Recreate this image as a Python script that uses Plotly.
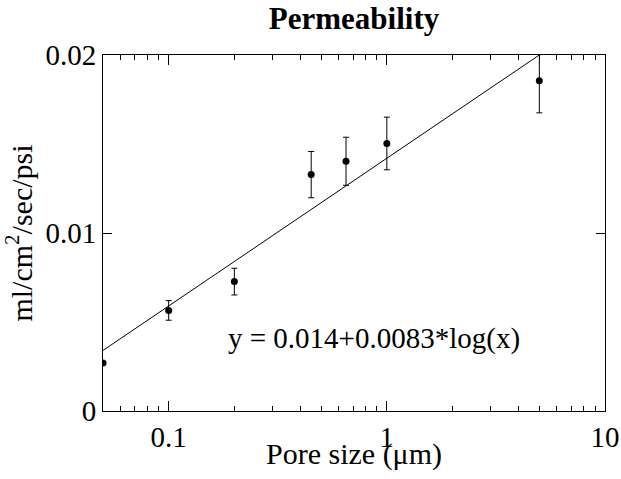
import math
import plotly.graph_objects as go

# Data
pore_size = [0.05, 0.1, 0.2, 0.45, 0.65, 1.0, 5.0]
permeability = [0.0027, 0.00565, 0.00727, 0.01328, 0.01403, 0.01503, 0.01855]
perm_error = [0.0, 0.00055, 0.00075, 0.0013, 0.00135, 0.00148, 0.0018]

fit_intercept = 0.0142
fit_slope = 0.0083
fit_x = [0.05, 0.5, 5.0, 6.0]
fit_y = [fit_intercept + fit_slope * math.log10(v) for v in fit_x]

x_tickvals = [0.1, 1, 10]
x_ticktext = ["0.1", "1", "10"]
x_minor = [0.06, 0.07, 0.08, 0.09,
           0.2, 0.3, 0.4, 0.5, 0.6, 0.7, 0.8, 0.9,
           2, 3, 4, 5, 6, 7, 8, 9]
y_tickvals = [0, 0.01, 0.02]
y_ticktext = ["0", "0.01", "0.02"]

FONT = "Liberation Serif, Times New Roman, serif"

fig = go.Figure()
fig.add_trace(go.Scatter(
    x=fit_x, y=fit_y, mode="lines",
    line=dict(color="black", width=1), showlegend=False, hoverinfo="skip"))
fig.add_trace(go.Scatter(
    x=pore_size, y=permeability, mode="markers",
    marker=dict(color="black", size=7),
    error_y=dict(type="data", array=perm_error, visible=True,
                 color="black", thickness=1, width=3),
    showlegend=False, cliponaxis=True))

fig.update_layout(
    width=621, height=479,
    margin=dict(l=103, r=16, t=55, b=68, autoexpand=False),
    paper_bgcolor="white", plot_bgcolor="white",
    font=dict(family=FONT, color="black", size=28),
    title=dict(text="<b>Permeability</b>", x=0.5, xref="paper",
               y=0.962, yref="container", yanchor="middle",
               xanchor="center",
               font=dict(family=FONT, size=31, color="black")),
    annotations=[
        dict(text="y = 0.014+0.0083*log(x)", x=0.54, y=0.152,
             xref="paper", yref="paper", showarrow=False,
             font=dict(family=FONT, size=29, color="black")),
        dict(text="Pore size (μm)", x=0.5, y=-0.122,
             xref="paper", yref="paper", showarrow=False,
             xanchor="center", yanchor="middle",
             font=dict(family=FONT, size=30, color="black")),
    ],
)
fig.update_xaxes(
    type="log", range=[math.log10(0.05), 1], automargin=False,
    tickmode="array", tickvals=x_tickvals, ticktext=x_ticktext,
    ticks="inside", ticklen=10, tickwidth=1, tickcolor="black",
    minor=dict(tickmode="array", tickvals=x_minor, ticks="inside",
               ticklen=5, tickwidth=1, tickcolor="black", showgrid=False),
    showline=True, linecolor="black", linewidth=1, mirror="allticks",
    showgrid=False, zeroline=False,
    tickfont=dict(family=FONT, size=29),
)
fig.update_yaxes(
    range=[0, 0.02], automargin=False,
    tickmode="array", tickvals=y_tickvals, ticktext=y_ticktext,
    ticks="inside", ticklen=9, tickwidth=1, tickcolor="black",
    showline=True, linecolor="black", linewidth=1, mirror="allticks",
    showgrid=False, zeroline=False,
    tickfont=dict(family=FONT, size=29),
    title=dict(text="ml/cm<sup>2</sup>/sec/psi", font=dict(family=FONT, size=30), standoff=4),
)

fig.write_html("out.html")
